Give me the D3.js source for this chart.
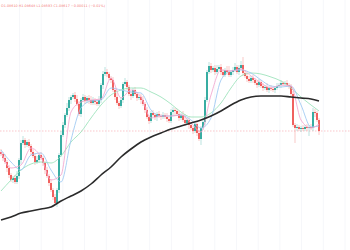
<!DOCTYPE html>
<html><head><meta charset="utf-8">
<script src="https://cdn.jsdelivr.net/npm/d3@7"></script>
<style>html,body{margin:0;padding:0;background:#fff;overflow:hidden}</style>
</head><body><svg id="c" width="350" height="250"></svg>
<script>
// ---- data (price units) ----
const firstOpen = 98;
const closes = [
 96,92,88,82,75,70,72,68,74,90,
 107,110,105,108,104,98,94,88,90,95,
 92,87,80,74,67,60,53,47,60,95,
 115,125,135,142,150,153,155,151,146,136,
 150,153,149,152,150,147,150,148,146,150,
 165,176,178,176,172,170,160,153,147,144,
 150,166,168,163,156,154,160,156,152,153,
 150,146,140,133,129,137,135,133,136,134,
 133,135,133,131,129,138,140,139,136,132,
 135,130,127,130,125,122,119,126,117,111,
 122,128,150,178,184,180,182,178,181,183,
 178,175,180,178,175,178,180,183,178,182,
 185,177,174,171,169,172,170,167,165,168,
 164,162,163,160,162,161,160,162,164,165,
 167,166,167,165,164,156,125,122,123,121,
 122,121,123,122,123,122,138,137,130,119];
const upperWick = [
 3,2,4,2,3,2,2,3,5,2,3,4,2,2,3,2,3,2,4,2,
 3,2,2,3,2,4,2,3,2,2,4,3,2,5,3,2,2,3,4,3,
 2,3,2,2,3,4,3,2,3,4,2,3,5,3,2,2,3,2,4,2,
 3,2,4,2,2,3,2,3,2,2,3,4,2,3,2,2,3,2,2,3,
 2,3,2,4,2,3,3,2,2,3,2,4,6,2,3,2,2,3,2,3,
 2,3,3,2,4,3,2,3,4,2,3,3,2,4,6,2,3,4,2,3,
 4,8,3,2,3,2,3,2,2,3,2,3,2,4,2,3,2,2,3,2,
 3,2,2,3,2,2,3,2,3,2,2,3,2,3,2,3,4,3,2,2];
const lowerWick = [
 2,3,2,4,3,2,3,2,2,3,4,2,3,2,2,3,2,3,2,3,
 2,3,4,2,3,2,3,2,4,3,2,2,3,2,3,4,2,3,2,2,
 3,2,3,2,4,2,2,3,2,2,3,4,2,3,2,3,2,3,2,3,
 2,3,2,3,2,4,2,2,3,2,4,2,3,2,3,2,2,3,4,2,
 3,2,2,3,2,2,3,4,2,3,2,2,3,2,4,2,3,2,3,2,
 6,2,3,2,2,3,2,3,2,2,3,2,2,3,2,2,3,2,2,3,
 2,3,2,3,2,2,3,2,3,2,2,3,2,2,3,2,2,3,2,2,
 3,2,2,2,3,3,2,15,3,2,3,2,2,3,8,2,3,4,2,4];
// moving averages sampled at candle indices
const maIdx = [0,5,10,15,20,25,30,35,40,45,50,55,60,65,70,75,80,85,90,95,100,105,110,115,120,125,130,135,140,145,150,155,159];
const maFast = [98,82,85,102,93,70,75,138,148,150,151,172,152,160,153,132,134,134,135,127,118,155,180,179,181,174,167,162,165,164,130,122,126];
const maMid  = [100,88,80,95,97,80,68,110,142,149,150,162,160,158,157,140,134,134,135,130,122,132,170,179,180,177,170,164,163,164,145,123,124];
const maSlow = [59,70,80,86,88,87,94,108,118,132,145,155,160,162,162,158,153,146,138,133,133,137,147,162,174,177,176,173,169,162,153,145,139];
const maLong = [30,33,37,39,41,43,49,54,59,66,75,83,93,101,108,113,117,121,124,127,130,134,139,145,150,153,154,154,154,153,152,151,149];
const lastPrice = 119;
const legendText = "O1.08610 H1.08648 L1.08593 C1.08617 −0.00011 (−0.01%)";

// ---- build candles ----
const candles = closes.map((c,i)=>{
  const o = i===0 ? firstOpen : closes[i-1];
  return {i, o, c, h: Math.max(o,c)+upperWick[i], l: Math.min(o,c)-lowerWick[i]};
});

const W=350,H=250;
const svg = d3.select("#c");
const x = d3.scaleLinear().domain([0, closes.length-1]).range([1, 319]);
const y = d3.scaleLinear().domain([0, 250]).range([250, 0]);

// grid
const gridX = d3.range(-2.2, W, 21.7);
svg.append("g").selectAll("line").data(gridX).join("line")
  .attr("x1",d=>d).attr("x2",d=>d).attr("y1",0).attr("y2",H)
  .attr("stroke","#f6f7fa").attr("stroke-width",1);

// last price line
svg.append("line").attr("x1",0).attr("x2",W)
  .attr("y1",y(lastPrice)).attr("y2",y(lastPrice))
  .attr("stroke","#f7a3a8").attr("stroke-width",0.6).attr("stroke-dasharray","1.5,1.5");

const up="#26a69a", dn="#ef5350";
const g = svg.append("g");
g.selectAll("line.w").data(candles).join("line").attr("class","w")
  .attr("x1",d=>x(d.i)).attr("x2",d=>x(d.i))
  .attr("y1",d=>y(d.h)).attr("y2",d=>y(d.l))
  .attr("stroke",d=>d.c>=d.o?up:dn).attr("stroke-opacity",0.45).attr("stroke-width",0.7);
g.selectAll("rect").data(candles).join("rect")
  .attr("x",d=>x(d.i)-0.9).attr("width",1.8)
  .attr("y",d=>y(Math.max(d.o,d.c)))
  .attr("height",d=>Math.max(0.8, Math.abs(y(d.o)-y(d.c))))
  .attr("fill",d=>d.c>=d.o?up:dn);

function ma(vals, color, w, op){
  const pts = maIdx.map((k,j)=>[x(k), y(vals[j])]);
  svg.append("path").attr("d", d3.line().curve(d3.curveMonotoneX)(pts))
    .attr("fill","none").attr("stroke",color).attr("stroke-width",w).attr("stroke-opacity",op);
}
ma(maSlow, "#9fe3bd", 1, 0.9);
ma(maMid, "#9cc8f2", 1, 0.85);
ma(maFast, "#f3a6cf", 1, 0.85);
ma(maLong, "#2b2b2b", 1.6, 1);

svg.append("text").attr("x",1).attr("y",6.5).text(legendText)
  .attr("font-family","DejaVu Sans, sans-serif").attr("font-size",3.4)
  .attr("fill","#ef5350").attr("fill-opacity",0.8);
</script></body></html>
